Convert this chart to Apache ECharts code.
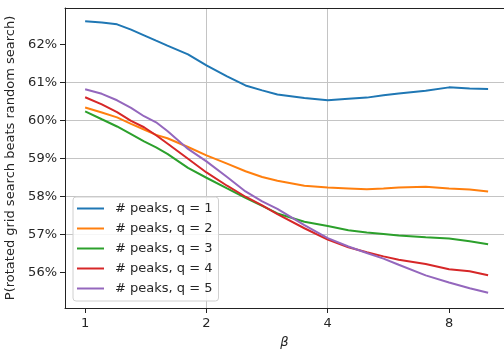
<!DOCTYPE html>
<html>
<head>
<meta charset="utf-8">
<script src="https://cdn.jsdelivr.net/npm/echarts@6/dist/echarts.min.js"></script>
<style>
  html, body { margin: 0; padding: 0; background: #fff; }
  #chart { width: 504px; height: 349px; }
</style>
</head>
<body>
<div id="chart"></div>
<script>
// beta values (log2 x axis)
const betas = [1, 1.1, 1.2, 1.3, 1.4, 1.5, 1.6, 1.8, 2, 2.25, 2.5, 2.75, 3, 3.5, 4, 4.5, 5, 5.5, 6, 7, 8, 9, 10];

// P(rotated grid search beats random search), in %
const q1 = [62.61, 62.58, 62.53, 62.39, 62.24, 62.10, 61.97, 61.74, 61.45, 61.16, 60.92, 60.79, 60.68, 60.59, 60.53, 60.57, 60.60, 60.66, 60.71, 60.78, 60.87, 60.84, 60.83];
const q2 = [60.34, 60.21, 60.08, 59.91, 59.76, 59.62, 59.53, 59.30, 59.08, 58.86, 58.66, 58.51, 58.41, 58.28, 58.23, 58.21, 58.19, 58.21, 58.23, 58.25, 58.21, 58.18, 58.13];
const q3 = [60.24, 60.03, 59.84, 59.64, 59.45, 59.29, 59.12, 58.75, 58.49, 58.21, 57.96, 57.75, 57.55, 57.33, 57.22, 57.11, 57.05, 57.01, 56.97, 56.92, 56.89, 56.82, 56.74];
const q4 = [60.61, 60.42, 60.22, 59.99, 59.82, 59.61, 59.39, 58.99, 58.63, 58.28, 57.99, 57.76, 57.53, 57.16, 56.86, 56.66, 56.53, 56.42, 56.33, 56.22, 56.08, 56.03, 55.92];
const q5 = [60.82, 60.70, 60.53, 60.33, 60.11, 59.95, 59.72, 59.25, 58.92, 58.51, 58.13, 57.87, 57.67, 57.24, 56.90, 56.68, 56.51, 56.36, 56.20, 55.92, 55.73, 55.58, 55.46];

const seriesNames = ['# peaks, q = 1', '# peaks, q = 2', '# peaks, q = 3', '# peaks, q = 4', '# peaks, q = 5'];
const seriesValues = [q1, q2, q3, q4, q5];
const colors = ['#1f77b4', '#ff7f0e', '#2ca02c', '#d62728', '#9467bd'];

const xTicks = [1, 2, 4, 8];
const yTicks = [56, 57, 58, 59, 60, 61, 62];

const chart = echarts.init(document.getElementById('chart'), null, {renderer: 'canvas'});
const font = 'DejaVu Sans';
const textColor = '#262626';
// plot area is cut off on the right, so the visible range ends before the matplotlib margin
const xMin = Math.pow(2, -0.166);
const xMax = Math.pow(2, 3.453);

chart.setOption({
  animation: false,
  color: colors,
  grid: {
    left: 65,
    top: 8,
    right: 0,
    bottom: 41,
    outerBoundsMode: 'none',
    show: false
  },
  xAxis: [{
    type: 'log',
    logBase: 2,
    min: xMin,
    max: xMax,
    name: 'β',
    nameLocation: 'middle',
    nameGap: 28,
    nameTextStyle: {fontFamily: font, fontSize: 13, fontStyle: 'italic', color: textColor},
    axisLine: {show: true, lineStyle: {color: '#222', width: 1}},
    axisTick: {show: true, inside: false, length: 5, lineStyle: {color: '#222'}, customValues: xTicks},
    axisLabel: {
      fontFamily: font, fontSize: 13, color: textColor, margin: 9,
      customValues: xTicks,
      formatter: v => String(Math.round(v))
    },
    splitLine: {show: true, showMinLine: false, showMaxLine: false, lineStyle: {color: '#c4c4c4', width: 1}},
    minorSplitLine: {show: false}
  }, {
    // top frame line only
    type: 'log',
    logBase: 2,
    position: 'top',
    min: xMin,
    max: xMax,
    axisLine: {show: true, lineStyle: {color: '#222', width: 1}},
    axisTick: {show: false},
    axisLabel: {show: false},
    splitLine: {show: false}
  }],
  yAxis: {
    type: 'value',
    min: 55.06,
    max: 62.96,
    name: 'P(rotated grid search beats random search)',
    nameLocation: 'middle',
    nameRotate: 90,
    nameGap: 45,
    nameTextStyle: {fontFamily: font, fontSize: 13, color: textColor},
    axisLine: {show: true, lineStyle: {color: '#222', width: 1}},
    axisTick: {show: true, inside: false, length: 5, lineStyle: {color: '#222'}, customValues: yTicks},
    axisLabel: {
      fontFamily: font, fontSize: 13, color: textColor, margin: 8,
      customValues: yTicks,
      formatter: '{value}%'
    },
    splitLine: {show: true, showMinLine: false, showMaxLine: false, lineStyle: {color: '#c4c4c4', width: 1}}
  },
  legend: {
    orient: 'vertical',
    left: 73,
    top: 197,
    padding: [5, 6, 6, 4],
    icon: 'rect',
    itemWidth: 27,
    itemHeight: 2,
    itemGap: 7,
    backgroundColor: 'rgba(255,255,255,0.85)',
    borderColor: '#d0d0d0',
    borderWidth: 1,
    borderRadius: 3,
    textStyle: {fontFamily: font, fontSize: 13, color: textColor, padding: [0, 0, 0, 6]},
    data: seriesNames
  },
  series: seriesNames.map((name, i) => ({
    name: name,
    type: 'line',
    symbol: 'none',
    smooth: false,
    lineStyle: {width: 2, color: colors[i]},
    data: betas.map((b, j) => [b, seriesValues[i][j]])
  }))
});
</script>
</body>
</html>
